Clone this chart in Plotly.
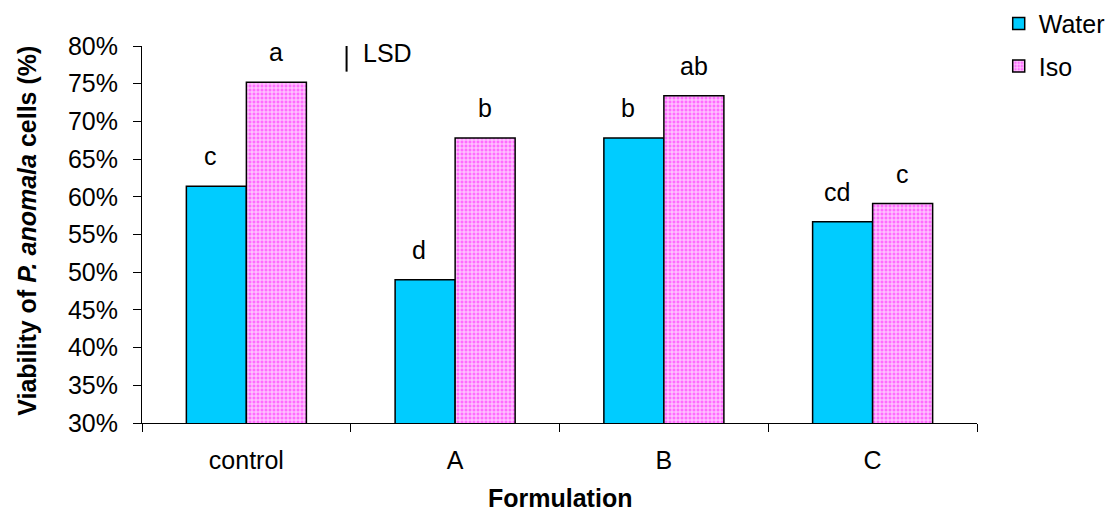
import plotly.graph_objects as go

# ---- data ----
categories = ["control", "A", "B", "C"]
water = [61.4, 49.0, 67.8, 56.7]
iso = [75.2, 67.8, 73.4, 59.1]
water_letters = ["c", "d", "b", "cd"]
iso_letters = ["a", "b", "ab", "c"]
lsd = 3.4
y_tick_vals = [30, 35, 40, 45, 50, 55, 60, 65, 70, 75, 80]
y_tick_text = ["30%", "35%", "40%", "45%", "50%", "55%", "60%", "65%", "70%", "75%", "80%"]

FONT = "Liberation Sans, Arial, sans-serif"
FS = 25
BARGAP = 0.425
half = (1 - BARGAP) / 4  # offset of each bar centre from the category centre

fig = go.Figure()
fig.add_bar(
    name="Water", x=categories, y=water, legendgroup="w",
    marker=dict(color="#00CCFF", line=dict(color="black", width=1.5)),
)
fig.add_bar(
    name="Iso", x=categories, y=iso, legendgroup="i",
    marker=dict(
        color="#FF70FF",
        line=dict(color="black", width=1.5),
        pattern=dict(shape="+", fgcolor="#FFD8FF", bgcolor="#FF6CFF",
                     size=4, solidity=0.45, fillmode="replace"),
    ),
)

annotations = []
for i, (wv, iv) in enumerate(zip(water, iso)):
    annotations.append(dict(x=i - half, y=wv, xref="x", yref="y", text=water_letters[i],
                            showarrow=False, yanchor="bottom", yshift=14, xshift=-6,
                            font=dict(size=FS, color="black", family=FONT)))
    annotations.append(dict(x=i + half, y=iv, xref="x", yref="y", text=iso_letters[i],
                            showarrow=False, yanchor="bottom", yshift=14,
                            font=dict(size=FS, color="black", family=FONT)))

lsd_x = 0.48
y_top = y_tick_vals[-1]
annotations.append(dict(x=lsd_x, y=y_top, xref="x", yref="y", text="LSD", showarrow=False,
                        xanchor="left", yanchor="middle", xshift=14, yshift=-7,
                        font=dict(size=FS, color="black", family=FONT)))
annotations.append(dict(x=-0.1377, y=0.51, xref="paper", yref="paper",
                        text="<b>Viability of <i>P. anomala</i> cells (%)</b>",
                        textangle=-90, showarrow=False, xanchor="center", yanchor="middle",
                        font=dict(size=FS, color="black", family=FONT)))
annotations.append(dict(x=0.5, y=-0.2425, xref="paper", yref="paper", text="<b>Formulation</b>",
                        showarrow=False, xanchor="center", yanchor="bottom",
                        font=dict(size=FS, color="black", family=FONT)))

fig.add_shape(type="line", xref="x", yref="y", x0=lsd_x, x1=lsd_x,
              y0=y_top - lsd, y1=y_top, line=dict(color="black", width=2))

fig.update_layout(
    width=1111, height=515,
    margin=dict(l=142, r=134, t=46, b=92, autoexpand=False),
    paper_bgcolor="white", plot_bgcolor="white",
    barmode="group", bargap=BARGAP, bargroupgap=0,
    font=dict(family=FONT, size=FS, color="black"),
    showlegend=True,
    legend=dict(x=1.026, y=1.12, xanchor="left", yanchor="top",
                font=dict(size=FS, family=FONT, color="black"),
                tracegroupgap=7, bgcolor="rgba(0,0,0,0)"),
    annotations=annotations,
    xaxis=dict(type="category", range=[-0.5, 3.5], showline=True, linecolor="black",
               linewidth=1, ticks="outside", ticklen=8, tickcolor="black",
               tickson="boundaries", showgrid=False, ticklabelstandoff=15,
               tickfont=dict(size=FS, family=FONT, color="black")),
    yaxis=dict(range=[30, 80], tickvals=y_tick_vals, ticktext=y_tick_text,
               showline=True, linecolor="black", linewidth=1, ticks="outside",
               ticklen=8, tickcolor="black", showgrid=False, zeroline=False,
               ticklabelstandoff=10,
               tickfont=dict(size=FS, family=FONT, color="black")),
)

fig.write_html("out.html")
